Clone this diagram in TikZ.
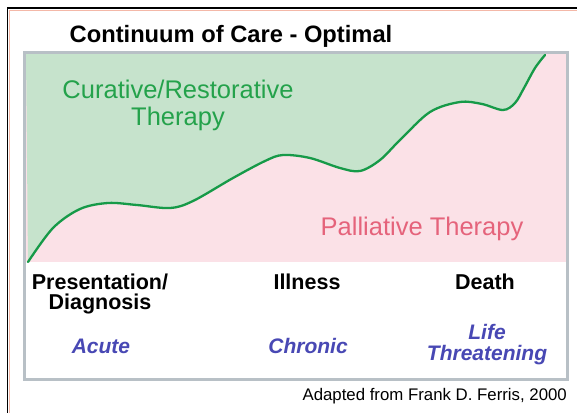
\documentclass[tikz,border=0pt]{standalone}
\usepackage{fontspec}
\setmainfont{Liberation Sans}
\definecolor{greenfill}{HTML}{C6E3CC}
\definecolor{pinkfill}{HTML}{FBE1E7}
\definecolor{curvegreen}{HTML}{169A48}
\definecolor{greentext}{HTML}{24A24B}
\definecolor{pinktext}{HTML}{E5637B}
\definecolor{bluetext}{HTML}{4848B4}
\definecolor{boxgray}{HTML}{B8C0C6}
\definecolor{salmon}{HTML}{F4B8A8}
\tikzset{
  lbl/.style={inner sep=0pt, anchor=base, font=\fontsize{21.5}{24}\selectfont\bfseries, text=black},
  stage/.style={inner sep=0pt, anchor=base, font=\fontsize{21}{24}\selectfont\bfseries\itshape, text=bluetext},
  bigtxt/.style={inner sep=0pt, anchor=base, font=\fontsize{25.5}{28}\selectfont},
}
\begin{document}
\begin{tikzpicture}[x=1pt,y=-1pt]
\useasboundingbox (0,0) rectangle (577,413);
\fill[white] (0,0) rectangle (577,413);
% outer frame (cut at right and bottom)
\draw[salmon, line width=1.2pt] (577,10.8) -- (9.8,10.8) -- (9.8,413);
\draw[black, line width=1.5pt] (577,8) -- (7.5,8) -- (7.5,413);
% areas
\fill[pinkfill] (26,54) rectangle (566,262);
\fill[greenfill] (26,262) -- (28,262)
  plot[smooth, tension=0.55] coordinates {(28,262) (53,228) (80,209) (108,203) (137,205) (170,208) (193,201) (233,178) (265,161) (283,155) (310,158) (340,168) (360,171) (380,160) (400,140) (430,112) (460,102) (482,104) (503,110) (515,103) (524,88) (535,68) (545,55)}
  -- (545,54) -- (26,54) -- cycle;
\draw[curvegreen, line width=2.3pt, line cap=round]
  plot[smooth, tension=0.55] coordinates {(28,262) (53,228) (80,209) (108,203) (137,205) (170,208) (193,201) (233,178) (265,161) (283,155) (310,158) (340,168) (360,171) (380,160) (400,140) (430,112) (460,102) (482,104) (503,110) (515,103) (524,88) (535,68) (545,55)};
% gray box
\draw[boxgray, line width=3pt] (24.5,52.5) rectangle (567.5,379);
% texts
\node[inner sep=0pt, anchor=base, font=\fontsize{23.7}{26}\selectfont\bfseries] (title) at (231,42) {Continuum of Care - Optimal};
\node[bigtxt, text=greentext] (cur1) at (178,98) {Curative/Restorative};
\node[bigtxt, text=greentext] (cur2) at (178,125) {Therapy};
\node[bigtxt, text=pinktext] (pal) at (422,235) {Palliative Therapy};
\node[lbl] (pres1) at (100,289) {Presentation/};
\node[lbl] (pres2) at (100,309) {Diagnosis};
\node[lbl] (ill) at (307,289) {Illness};
\node[lbl] (death) at (485,289) {Death};
\node[stage] (acute) at (101,353) {Acute};
\node[stage] (chronic) at (308,353) {Chronic};
\node[stage] (life1) at (487,339) {Life};
\node[stage] (life2) at (487,360) {Threatening};
\node[inner sep=0pt, anchor=base east, font=\fontsize{16.8}{19}\selectfont] (credit) at (567,400) {Adapted from Frank D. Ferris, 2000};
\end{tikzpicture}
\end{document}
